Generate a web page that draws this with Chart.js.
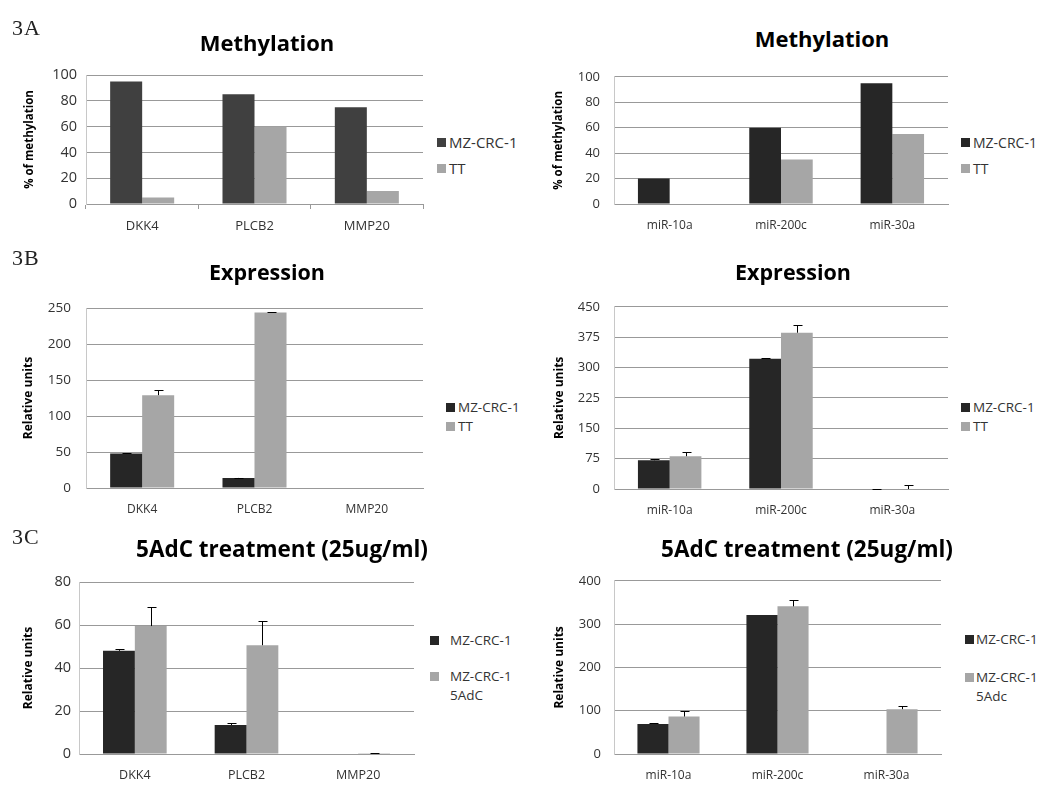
<!DOCTYPE html>
<html>
<head>
<meta charset="utf-8">
<script src="https://cdn.jsdelivr.net/npm/chart.js@4.4.1/dist/chart.umd.min.js"></script>
<style>
  html, body { margin: 0; padding: 0; background: #fff; }
  body { width: 1049px; height: 785px; position: relative; overflow: hidden; font-family: "Open Sans", sans-serif; }
  canvas { position: absolute; }
  .title { position: absolute; font-weight: bold; color: #000; white-space: nowrap; transform: translate(-50%, -50%); line-height: 1; }
  .tag { position: absolute; font-family: "Liberation Serif", serif; color: #222; font-size: 22px; letter-spacing: 1px; line-height: 1; transform: translateY(-50%); }
  .lg { position: absolute; color: #333; white-space: pre-line; }
  .lg i { position: absolute; left: 0; width: 9px; height: 9px; }
  .lg span { position: absolute; white-space: pre; }
</style>
</head>
<body>
<script>
// Categories
const geneCategories = ['DKK4', 'PLCB2', 'MMP20'];
const mirCategories = ['miR-10a', 'miR-200c', 'miR-30a'];

// Methylation (%)
const methGeneMZ = [95, 85, 75];
const methGeneTT = [5, 60, 10];
const methMirMZ = [20, 60, 95];
const methMirTT = [0, 35, 55];

// Expression (relative units) with error
const exprGeneMZ = [48, 14, 0];
const exprGeneMZErr = [1, 0.5, 0];
const exprGeneTT = [129, 244, 0];
const exprGeneTTErr = [7, 1, 0];
const exprMirMZ = [71, 322, 0];
const exprMirMZErr = [2, 2, 0.5];
const exprMirTT = [81, 386, 0];
const exprMirTTErr = [10, 20, 11];

// 5AdC treatment (relative units) with error
const azaGeneMZ = [48, 13.5, 0];
const azaGeneMZErr = [0.8, 0.8, 0];
const azaGeneTreated = [59.5, 50.6, 0.4];
const azaGeneTreatedErr = [9, 11.3, 0.1];
const azaMirMZ = [69.5, 321, 0];
const azaMirMZErr = [1, 0, 0];
const azaMirTreated = [86.5, 341, 103.5];
const azaMirTreatedErr = [13, 15, 8];

// Y-axis tick values
const pctTicks = [0, 20, 40, 60, 80, 100];
const exprGeneTicks = [0, 50, 100, 150, 200, 250];
const exprMirTicks = [0, 75, 150, 225, 300, 375, 450];
const azaGeneTicks = [0, 20, 40, 60, 80];
const azaMirTicks = [0, 100, 200, 300, 400];

// Series colours
const DARK_A = '#404040';
const DARK = '#262626';
const LIGHT = '#a6a6a6';

const FONT = '"Open Sans", sans-serif';

// Draws "plus" error bars on top of the bars
const errorBars = {
  id: 'errorBars',
  afterDatasetsDraw(chart) {
    const { ctx } = chart;
    const ys = chart.scales.y;
    chart.data.datasets.forEach((ds, di) => {
      if (!ds.errors) return;
      const meta = chart.getDatasetMeta(di);
      ds.errors.forEach((e, i) => {
        if (!e) return;
        const bar = meta.data[i];
        const x = Math.round(bar.x) + 0.5;
        const y0 = ys.getPixelForValue(ds.data[i]);
        const y1 = Math.round(ys.getPixelForValue(ds.data[i] + e)) + 0.5;
        ctx.save();
        ctx.strokeStyle = '#000';
        ctx.lineWidth = 1;
        ctx.beginPath();
        ctx.moveTo(x, y0);
        ctx.lineTo(x, y1);
        ctx.moveTo(x - 4, y1);
        ctx.lineTo(x + 5, y1);
        ctx.stroke();
        ctx.restore();
      });
    });
  }
};

const panels = [
  {
    tag: '3A', tagY: 28,
    title: 'Methylation', titleX: 267, titleY: 42, titleSize: 22,
    cats: geneCategories, ticks: pctTicks, yTitle: '% of methylation', yTitleX: 30, yTitleSize: 11.5,
    plot: [86, 75, 423, 204], left: 0, tickMarks: true, yPad: 9, yFont: 14.5, xFont: 13,
    series: [
      { label: 'MZ-CRC-1', data: methGeneMZ, color: DARK_A },
      { label: 'TT', data: methGeneTT, color: LIGHT }
    ],
    legend: { x: 437, ys: [142, 168], size: 15 }
  },
  {
    title: 'Methylation', titleX: 822, titleY: 38, titleSize: 22,
    cats: mirCategories, ticks: pctTicks, yTitle: '% of methylation', yTitleX: 559, yTitleSize: 11.5,
    plot: [614, 75, 948, 204], left: 540, tickMarks: false, yPad: 14, yFont: 13, xFont: 12,
    series: [
      { label: 'MZ-CRC-1', data: methMirMZ, color: DARK },
      { label: 'TT', data: methMirTT, color: LIGHT }
    ],
    legend: { x: 961, ys: [142, 168], size: 14 }
  },
  {
    tag: '3B', tagY: 258,
    title: 'Expression', titleX: 267, titleY: 272, titleSize: 21.5,
    cats: geneCategories, ticks: exprGeneTicks, yTitle: 'Relative units', yTitleX: 29, yTitleSize: 12,
    plot: [86, 305, 423, 488], left: 0, tickMarks: false, yPad: 15, yFont: 13.5, xFont: 12,
    series: [
      { label: 'MZ-CRC-1', data: exprGeneMZ, errors: exprGeneMZErr, color: DARK },
      { label: 'TT', data: exprGeneTT, errors: exprGeneTTErr, color: LIGHT }
    ],
    legend: { x: 446, ys: [407, 426], size: 13.5 }
  },
  {
    title: 'Expression', titleX: 793, titleY: 272, titleSize: 21.5,
    cats: mirCategories, ticks: exprMirTicks, yTitle: 'Relative units', yTitleX: 560, yTitleSize: 12,
    plot: [614, 305, 948, 489], left: 540, tickMarks: false, yPad: 14, yFont: 13, xFont: 12,
    series: [
      { label: 'MZ-CRC-1', data: exprMirMZ, errors: exprMirMZErr, color: DARK },
      { label: 'TT', data: exprMirTT, errors: exprMirTTErr, color: LIGHT }
    ],
    legend: { x: 961, ys: [407, 426], size: 13.5 }
  },
  {
    tag: '3C', tagY: 537,
    title: '5AdC treatment (25ug/ml)', titleX: 282, titleY: 549, titleSize: 22.5,
    cats: geneCategories, ticks: azaGeneTicks, yTitle: 'Relative units', yTitleX: 29, yTitleSize: 12,
    plot: [79, 582, 414, 754], left: 0, tickMarks: false, yPad: 8, yFont: 14.5, xFont: 12.5,
    series: [
      { label: 'MZ-CRC-1', data: azaGeneMZ, errors: azaGeneMZErr, color: DARK },
      { label: 'MZ-CRC-1\n5AdC', data: azaGeneTreated, errors: azaGeneTreatedErr, color: LIGHT }
    ],
    legend: { x: 430, ys: [640, 676], size: 13.5, textX: 450 }
  },
  {
    title: '5AdC treatment (25ug/ml)', titleX: 807, titleY: 549, titleSize: 22.5,
    cats: mirCategories, ticks: azaMirTicks, yTitle: 'Relative units', yTitleX: 560, yTitleSize: 12,
    plot: [614, 580, 941, 754], left: 540, tickMarks: false, yPad: 13, yFont: 13, xFont: 12,
    series: [
      { label: 'MZ-CRC-1', data: azaMirMZ, errors: azaMirMZErr, color: DARK },
      { label: 'MZ-CRC-1\n5Adc', data: azaMirTreated, errors: azaMirTreatedErr, color: LIGHT }
    ],
    legend: { x: 965, ys: [639, 677], size: 13.5, textX: 976 }
  }
];

function addDiv(cls, text, css) {
  const d = document.createElement('div');
  d.className = cls;
  d.textContent = text;
  Object.assign(d.style, css);
  document.body.appendChild(d);
  return d;
}

panels.forEach(p => {
  const [pl, pt, pr, pb] = p.plot;
  const L = p.left;
  const T = pt - 20;
  const W = pr + 6 - L;
  const H = pb + 36 - T;

  const cv = document.createElement('canvas');
  cv.width = W; cv.height = H;
  cv.style.left = L + 'px'; cv.style.top = T + 'px';
  cv.style.width = W + 'px'; cv.style.height = H + 'px';
  document.body.appendChild(cv);

  const titleLH = p.yTitleSize * 1.2;
  const xTickLen = p.tickMarks ? 5 : 0;

  new Chart(cv, {
    type: 'bar',
    data: {
      labels: p.cats,
      datasets: p.series.map(s => ({
        label: s.label,
        data: s.data,
        errors: s.errors,
        backgroundColor: s.color,
        borderWidth: 0,
        categoryPercentage: 0.57,
        barPercentage: 1.0
      }))
    },
    options: {
      responsive: false,
      animation: false,
      devicePixelRatio: 1,
      layout: { padding: { top: 20, right: 6, left: 0, bottom: 0 } },
      plugins: { legend: { display: false }, title: { display: false }, tooltip: { enabled: false } },
      scales: {
        x: {
          grid: { display: p.tickMarks, drawOnChartArea: false, drawTicks: p.tickMarks, tickLength: 5, color: '#999', offset: true },
          border: { display: true, color: '#999', width: 1 },
          ticks: { color: '#333', font: { family: FONT, size: p.xFont }, padding: 14 - xTickLen, maxRotation: 0 },
          afterFit: s => { s.height = 36; }
        },
        y: {
          min: p.ticks[0],
          max: p.ticks[p.ticks.length - 1],
          afterBuildTicks: s => { s.ticks = p.ticks.map(v => ({ value: v })); },
          grid: { color: '#999', drawTicks: false, lineWidth: 1 },
          border: { display: true, color: '#c8c8c8', width: 1 },
          ticks: { color: '#333', font: { family: FONT, size: p.yFont }, padding: p.yPad },
          title: {
            display: true, text: p.yTitle, color: '#000',
            font: { family: FONT, size: p.yTitleSize, weight: 'bold' },
            padding: { top: p.yTitleX - L - titleLH / 2, bottom: 0 }
          },
          afterFit: s => { s.width = pl - L; }
        }
      }
    },
    plugins: [errorBars]
  });

  // Chart title
  addDiv('title', p.title, { left: p.titleX + 'px', top: p.titleY + 'px', fontSize: p.titleSize + 'px' });

  // Figure panel tag
  if (p.tag) addDiv('tag', p.tag, { left: '12px', top: p.tagY + 'px' });

  // Legend
  const lg = p.legend;
  p.series.forEach((s, i) => {
    const item = document.createElement('div');
    item.className = 'lg';
    const lh = 19;
    Object.assign(item.style, { left: lg.x + 'px', top: (lg.ys[i] - lh / 2) + 'px', fontSize: lg.size + 'px', lineHeight: lh + 'px' });
    const box = document.createElement('i');
    Object.assign(box.style, { top: (lh / 2 - 4.5) + 'px', background: s.color });
    const txt = document.createElement('span');
    txt.textContent = s.label;
    Object.assign(txt.style, { left: ((lg.textX || lg.x + 12) - lg.x) + 'px', top: '0px' });
    item.appendChild(box);
    item.appendChild(txt);
    document.body.appendChild(item);
  });
});
</script>
</body>
</html>
